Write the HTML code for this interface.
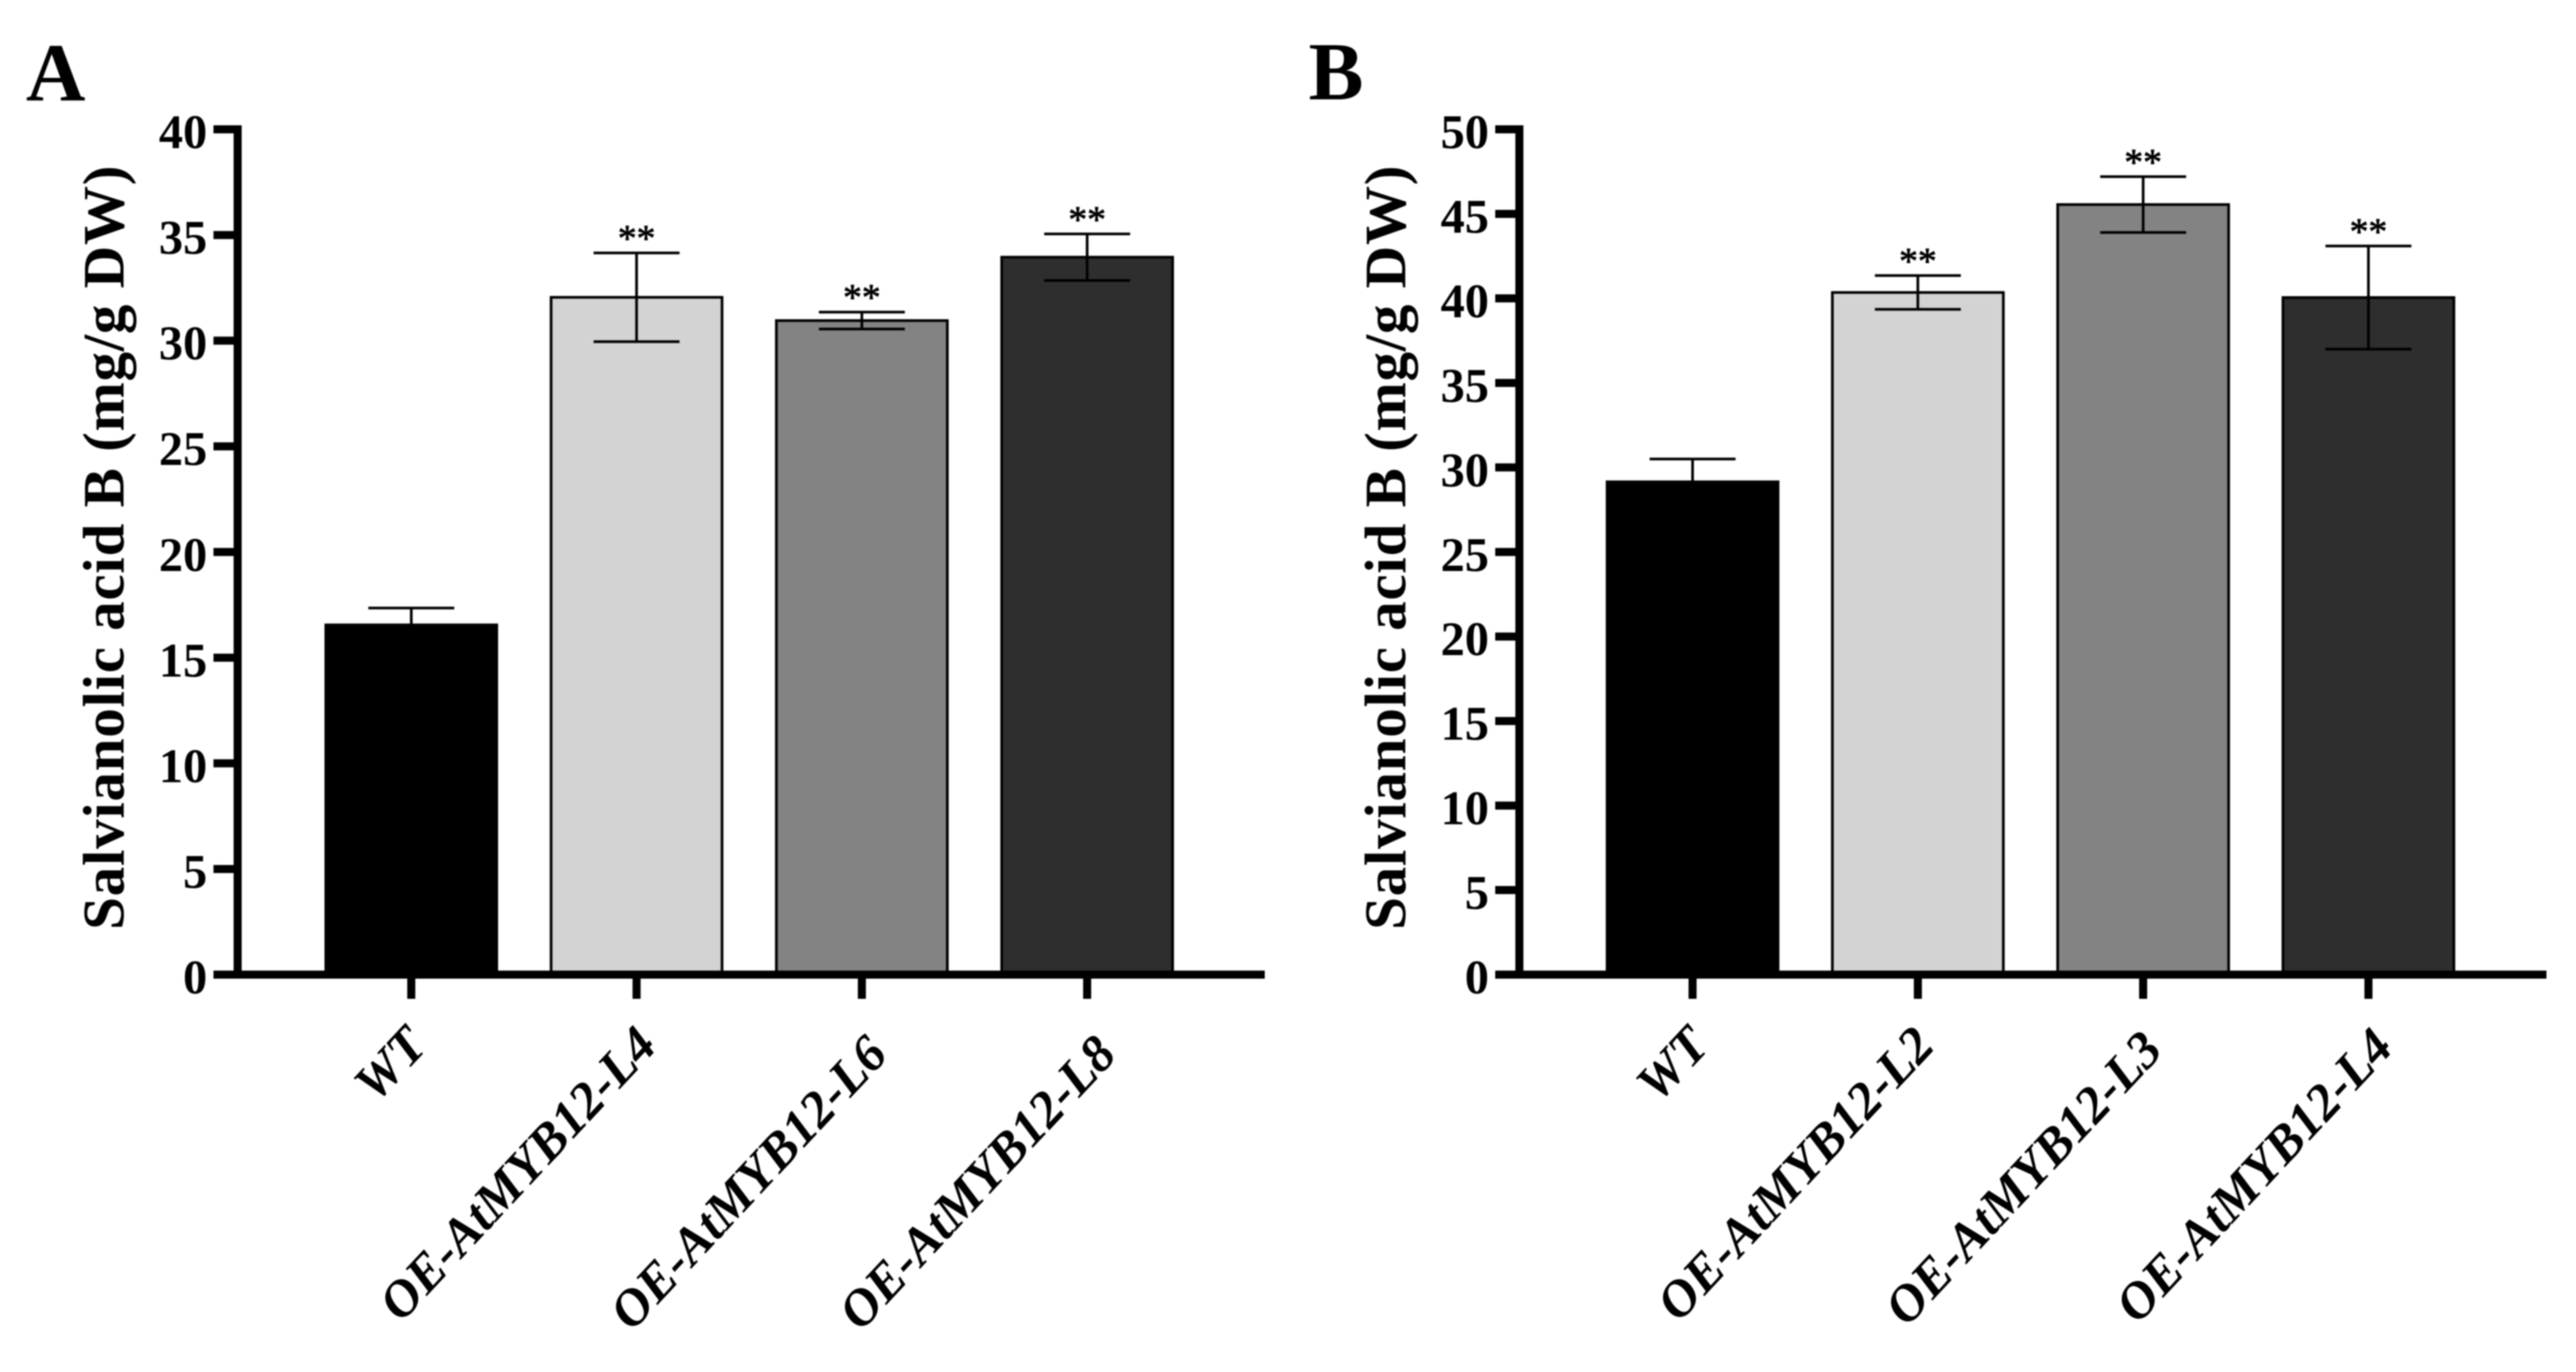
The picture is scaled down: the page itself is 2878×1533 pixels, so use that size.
<!DOCTYPE html>
<html lang="en">
<head>
<meta charset="utf-8">
<title>Salvianolic acid B content</title>
<style>
html,body{margin:0;padding:0;background:#fff;width:2878px;height:1533px;overflow:hidden}
svg{display:block;filter:blur(0.7px)}
text{font-family:"Liberation Serif",serif;fill:#000}
</style>
</head>
<body>
<svg id="figure" xmlns="http://www.w3.org/2000/svg" width="2878" height="1533" viewBox="0 0 2878 1533">
  <text x="29" y="112" font-size="92" font-weight="700">A</text>
  <text x="1462" y="111" font-size="92" font-weight="700">B</text>
</svg>
<script>
// Panel A data
const categoriesA = ['WT', 'OE-AtMYB12-L4', 'OE-AtMYB12-L6', 'OE-AtMYB12-L8'];
const valuesA = [16.55, 32.05, 30.95, 33.95];
const errorsA = [0.8, 2.1, 0.4, 1.1];
const significantA = [false, true, true, true];
const tickLabelsA = [0, 5, 10, 15, 20, 25, 30, 35, 40];

// Panel B data
const categoriesB = ['WT', 'OE-AtMYB12-L2', 'OE-AtMYB12-L3', 'OE-AtMYB12-L4'];
const valuesB = [29.15, 40.35, 45.55, 40.05];
const errorsB = [1.35, 1.0, 1.65, 3.05];
const significantB = [false, true, true, true];
const tickLabelsB = [0, 5, 10, 15, 20, 25, 30, 35, 40, 45, 50];

const yAxisTitle = 'Salvianolic acid B (mg/g DW)';

// Shared styling
const barFills = ['#000000', '#d3d3d3', '#838383', '#2e2e2e'];

const svg = document.getElementById('figure');
const NS = 'http://www.w3.org/2000/svg';

function make(tag, attrs, parent) {
  const node = document.createElementNS(NS, tag);
  for (const key in attrs) node.setAttribute(key, attrs[key]);
  parent.appendChild(node);
  return node;
}

function drawPanel(cfg) {
  const yTop = 144.5, yBase = 1089;
  const yMax = cfg.ticks[cfg.ticks.length - 1];
  const yScale = v => yBase - (v / yMax) * (yBase - yTop);
  const xScale = i => cfg.firstCenter + i * cfg.spacing;
  const barWidth = 191;

  const group = make('g', {}, svg);
  
  

  cfg.values.forEach((v, i) => {
    const cx = xScale(i);
    const bar = make('rect', {
      x: cx - barWidth / 2, y: yScale(v), width: barWidth, height: yBase - yScale(v),
      fill: barFills[i], stroke: '#000', 'stroke-width': 3
    }, group);
    
    

    const hi = yScale(v + cfg.errors[i]);
    const lo = yScale(v - cfg.errors[i]);
    const errorBar = make('path', {
      d: 'M' + cx + ' ' + hi + 'V' + lo + 'M' + (cx - 48) + ' ' + hi + 'H' + (cx + 48) + 'M' + (cx - 48) + ' ' + lo + 'H' + (cx + 48),
      stroke: '#000', 'stroke-width': 3, fill: 'none'
    }, group);
    
    

    if (cfg.significant[i]) {
      const star = make('text', {
        x: cx, y: hi - 2, 'font-size': 42, 'text-anchor': 'middle', stroke: '#000', 'stroke-width': 0.8
      }, group);
      star.textContent = '**';
      
      
    }

    const tick = make('line', {
      x1: cx, x2: cx, y1: yBase, y2: 1116, stroke: '#000', 'stroke-width': 9
    }, group);
    
    

    const lx = cx + cfg.labelNudgeX[i];
    const ly = 1170 + cfg.labelNudgeY[i];
    const label = make('text', {
      x: lx, y: ly, 'font-size': 58, 'font-weight': 700, 'font-style': 'italic',
      'text-anchor': 'end', transform: 'rotate(-47 ' + lx + ' ' + ly + ')'
    }, group);
    label.textContent = cfg.categories[i];
    
    
  });

  const xAxis = make('line', {
    x1: cfg.axisX - 27, x2: cfg.axisEnd, y1: yBase, y2: yBase, stroke: '#000', 'stroke-width': 9
  }, group);
  
  

  const yAxis = make('line', {
    x1: cfg.axisX, x2: cfg.axisX, y1: yTop - 4.5, y2: yBase + 4.5, stroke: '#000', 'stroke-width': 9
  }, group);
  
  

  cfg.ticks.forEach(t => {
    const y = yScale(t);
    const tick = make('line', {
      x1: cfg.axisX - 27, x2: cfg.axisX, y1: y, y2: y, stroke: '#000', 'stroke-width': 9
    }, group);
    
    

    const label = make('text', {
      x: cfg.axisX - 34, y: y + 21, 'font-size': 54, 'font-weight': 700, 'text-anchor': 'end'
    }, group);
    label.textContent = String(t);
    
    
  });

  const title = make('text', {
    x: cfg.titleX, y: 612, 'font-size': 66, 'font-weight': 700, 'text-anchor': 'middle',
    textLength: 854, transform: 'rotate(-90 ' + cfg.titleX + ' 612)'
  }, group);
  title.textContent = yAxisTitle;
  
  
}

drawPanel({
  name: 'panel-a', categories: categoriesA, values: valuesA, errors: errorsA,
  significant: significantA, ticks: tickLabelsA,
  axisX: 265.5, axisEnd: 1413, firstCenter: 459.5, spacing: 251.7, titleX: 138,
  labelNudgeX: [20, 25, 31, 35], labelNudgeY: [0, 0, 10, 10]
});
drawPanel({
  name: 'panel-b', categories: categoriesB, values: valuesB, errors: errorsB,
  significant: significantB, ticks: tickLabelsB,
  axisX: 1697.5, axisEnd: 2845, firstCenter: 1891, spacing: 251.7, titleX: 1570,
  labelNudgeX: [21, 21, 24, 30], labelNudgeY: [0, 0, 5, 2]
});
</script>
</body>
</html>
